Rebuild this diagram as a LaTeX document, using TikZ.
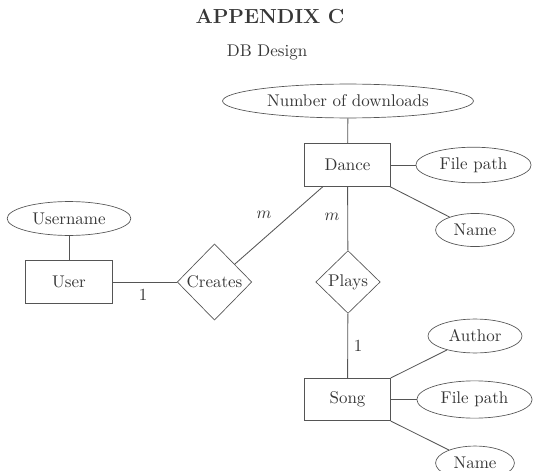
\documentclass[tikz,border=0pt]{standalone}
\usetikzlibrary{shapes.geometric}
\definecolor{ink}{RGB}{55,55,55}
\definecolor{linec}{RGB}{85,85,85}
\begin{document}
\begin{tikzpicture}[x=0.59pt,y=-0.59pt,
  every node/.style={text=ink},
  entity/.style={draw=linec,rectangle,minimum width=51pt,minimum height=25pt,inner sep=0pt},
  attr/.style={draw=linec,ellipse,inner sep=0pt,minimum height=20pt},
  rel/.style={draw=linec,diamond,inner sep=0pt},
  conn/.style={draw=linec,line width=0.5pt},
  card/.style={inner sep=0pt}]
\useasboundingbox (0,0) rectangle (540,471);
\node[font=\large\bfseries] (title) at (270,17) {APPENDIX C};
\node (sub) at (267,52) {DB Design};

\node[attr,minimum width=148pt] (nod) at (348,101) {Number of downloads};
\node[entity] (dance) at (347.5,165) {Dance};
\node[attr,minimum width=68pt,minimum height=21pt] (fp1) at (473.5,165) {File path};
\node[attr,minimum width=46.5pt,minimum height=19.5pt] (name1) at (475,230) {Name};

\node[attr,minimum width=73pt] (uname) at (69,218.5) {Username};
\node[entity] (user) at (69,282) {User};
\node[rel,minimum width=44pt,minimum height=45pt] (creates) at (214.5,282) {Creates};
\node[rel,minimum width=38pt,minimum height=37pt] (plays) at (348,282) {Plays};

\node[entity] (song) at (347.5,399.5) {Song};
\node[attr,minimum width=55.5pt] (author) at (475,336) {Author};
\node[attr,minimum width=68pt,minimum height=22pt] (fp2) at (474.5,399.5) {File path};
\node[attr,minimum width=46.5pt] (name2) at (475,463) {Name};

\draw[conn] (nod) -- (dance);
\draw[conn] (dance) -- (fp1);
\draw[conn] (dance) -- (name1);
\draw[conn] (uname) -- (user);
\draw[conn] (user) -- (creates);
\draw[conn] (creates) -- (dance);
\draw[conn] (dance) -- (plays);
\draw[conn] (plays) -- (song);
\draw[conn] (song) -- (author);
\draw[conn] (song) -- (fp2);
\draw[conn] (song) -- (name2);

\node[card] (c1) at (143,295) {1};
\node[card] (m1) at (264,215) {$m$};
\node[card] (m2) at (332,217) {$m$};
\node[card] (c2) at (358,346) {1};
\end{tikzpicture}
\end{document}
